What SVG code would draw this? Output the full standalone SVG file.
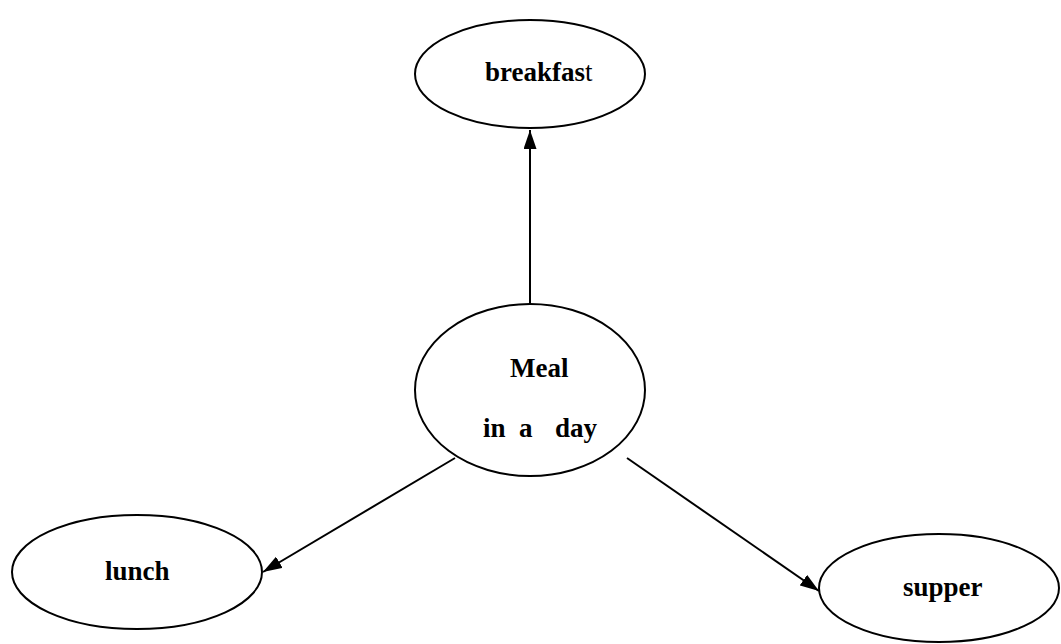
<svg xmlns="http://www.w3.org/2000/svg" width="1061" height="644" viewBox="0 0 1061 644">
<style>
.node{fill:#fff;stroke:#000;stroke-width:2}
.lbl{font-family:"Liberation Serif","Times New Roman",serif;font-size:27px;font-weight:bold;fill:#000}
.edge{stroke:#000;stroke-width:2;fill:none}
</style>
<defs>
<marker id="arr" viewBox="0 0 19 13" refX="19" refY="6.5" markerWidth="19" markerHeight="13" markerUnits="userSpaceOnUse" orient="auto">
<path d="M0,0 L19,6.5 L0,13 z" fill="#000"/>
</marker>
</defs>
<rect width="1061" height="644" fill="#fff"/>
<g id="connectors">
<line class="edge" x1="530" y1="304" x2="530" y2="130" marker-end="url(#arr)"/>
<line class="edge" x1="455" y1="458" x2="263" y2="572" marker-end="url(#arr)"/>
<line class="edge" x1="627" y1="458" x2="819" y2="591" marker-end="url(#arr)"/>
</g>
<g id="breakfast">
<ellipse class="node" cx="530" cy="74" rx="115" ry="54"/>
<text class="lbl" x="485" y="81">breakfas<tspan font-weight="normal">t</tspan></text>
</g>
<g id="meal">
<ellipse class="node" cx="530" cy="390" rx="115" ry="86"/>
<text class="lbl" x="510" y="377">Meal</text>
<text class="lbl" y="437"><tspan x="483">in</tspan><tspan x="519">a</tspan><tspan x="555">day</tspan></text>
</g>
<g id="lunch">
<ellipse class="node" cx="137" cy="572" rx="125" ry="57"/>
<text class="lbl" x="105" y="580">lunch</text>
</g>
<g id="supper">
<ellipse class="node" cx="939" cy="588" rx="120" ry="54"/>
<text class="lbl" x="903" y="596">supper</text>
</g>
</svg>
